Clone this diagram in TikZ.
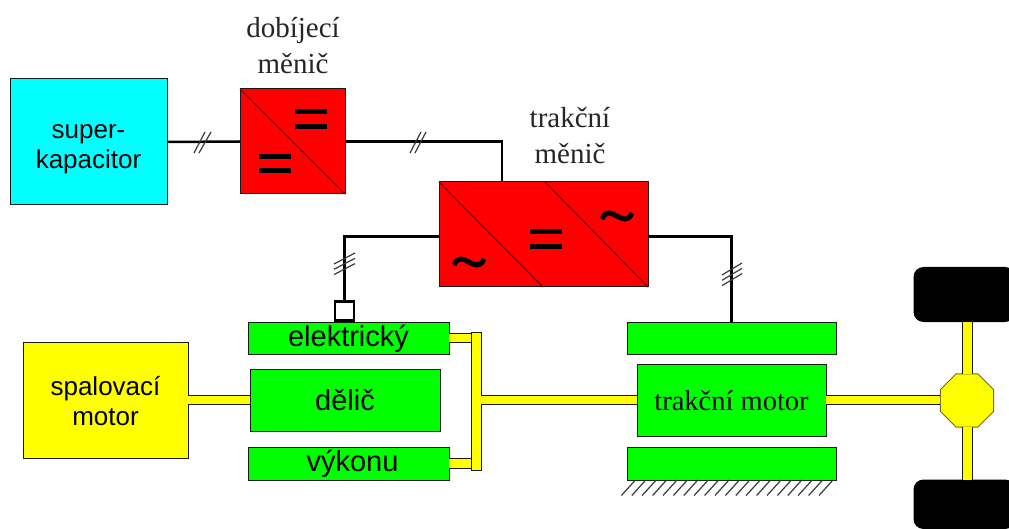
\documentclass[tikz,border=0pt]{standalone}
\usepackage{fontspec}
\setmainfont{Liberation Serif}
\setsansfont{Liberation Sans}
\usetikzlibrary{shapes.geometric}
\definecolor{edgedark}{HTML}{1A1A1A}
\definecolor{diagred}{HTML}{800000}
\definecolor{hatchgrey}{HTML}{3A3A3A}
\definecolor{purecyan}{HTML}{00FFFF}
\definecolor{purered}{HTML}{FF0000}
\definecolor{puregreen}{HTML}{00FF00}
\definecolor{pureyellow}{HTML}{FFFF00}
\definecolor{octedge}{HTML}{6E6E10}
\tikzset{
  block/.style={draw=edgedark,line width=1pt,inner sep=0pt,outer sep=0pt,align=center,text=black},
  capbox/.style={block,fill=purecyan},
  conv/.style={block,fill=purered},
  stator/.style={block,fill=puregreen,font=\sffamily\fontsize{29}{32}\selectfont},
  engine/.style={block,fill=pureyellow,font=\sffamily\fontsize{26}{30}\selectfont},
  caption/.style={inner sep=0pt,align=center,text=black!85,font=\rmfamily\fontsize{29}{35.5}\selectfont},
  wire/.style={draw=black,line width=2.5pt},
  diag/.style={draw=diagred,line width=1.2pt},
  tick/.style={draw=hatchgrey,line width=1.2pt},
  bars/.style={draw=black,line width=5pt},
  shaft/.style={draw=edgedark,line width=1pt,double=pureyellow,double distance=8.5pt},
  axle/.style={draw=edgedark,line width=1pt,double=pureyellow,double distance=9pt},
  wave/.pic={\draw[line width=5pt,black] (-15,3) .. controls (-7,-15) and (7,15) .. (15,-3);}
}
\begin{document}
\begin{tikzpicture}[x=1pt,y=-1pt]
\useasboundingbox (0,0) rectangle (1009,529);
% blocks
\node[capbox,minimum width=157pt,minimum height=126pt,font=\sffamily\fontsize{26}{30}\selectfont] (cap) at (88.5,142) {\rule{0pt}{29pt}super-\\kapacitor};
\node[conv,minimum width=105pt,minimum height=105pt] (chg) at (292.5,141.5) {};
\node[conv,minimum width=209pt,minimum height=105pt] (trac) at (543.5,234.5) {};
\node[caption] (lchg) at (293,45.5) {dobíjecí\\měnič};
\node[caption] (ltrac) at (570,135.5) {trakční\\měnič};
\node[draw=black,line width=2.5pt,fill=white,inner sep=0pt,outer sep=0pt,minimum width=19pt,minimum height=19pt] (sq) at (344.5,311) {};
\node[stator,minimum width=201pt,minimum height=32pt] (el) at (348.5,338) {\rule{0pt}{23pt}elektrický};
\node[stator,minimum width=190pt,minimum height=62pt] (del) at (345,400) {dělič};
\node[stator,minimum width=201pt,minimum height=33pt] (vy) at (348.5,463.5) {\hspace*{8pt}výkonu};
\node[engine,minimum width=165pt,minimum height=116pt] (ice) at (105.5,400) {\rule{0pt}{21pt}spalovací\\motor};
\node[block,fill=pureyellow,minimum width=10pt,minimum height=138pt] (bar) at (476,401) {};
\node[stator,minimum width=209pt,minimum height=32pt] (st1) at (731.5,338) {};
\node[block,fill=puregreen,minimum width=189pt,minimum height=72pt,font=\rmfamily\fontsize{28.5}{32}\selectfont] (mot) at (731.5,400) {\rule{0pt}{21pt}trakční motor};
\node[stator,minimum width=209pt,minimum height=33pt] (st2) at (731.5,463.5) {};
\node[regular polygon,regular polygon sides=8,draw=octedge,line width=1pt,fill=pureyellow,inner sep=0pt,outer sep=0pt,minimum size=57.4pt] (oct) at (967,400.5) {};
% wheels
\fill[black,rounded corners=10pt] (1015,267) -- (913.5,267) -- (913.5,322) -- (1015,322) -- cycle;
\fill[black,rounded corners=10pt] (1015,479.5) -- (913.5,479.5) -- (913.5,529) -- (1015,529) -- cycle;
\coordinate (w1) at (967,322);
\coordinate (w2) at (967,479.5);
% electrical connections
\draw[wire] (cap.east) -- (chg.west);
\draw[wire] (chg.east) -| ([xshift=-41.5pt]trac.north);
\draw[wire] ([yshift=-2pt]trac.west) -| (sq.north);
\draw[wire] ([yshift=-2pt]trac.east) -| (st1.north);
% mechanical connections
\draw[shaft] (ice.east) -- (del.west);
\draw[shaft] (el.east) -- (el.east -| bar.west);
\draw[shaft] (vy.east) -- (vy.east -| bar.west);
\draw[shaft] (bar.east |- mot.west) -- (mot.west);
\draw[shaft] (mot.east) -- (oct.west |- mot.east);
\draw[axle] (oct.north) -- (w1);
\draw[axle] (oct.south) -- (w2);
% converter diagonals
\draw[diag] (chg.north west) -- (chg.south east);
\draw[diag] (trac.north west) -- ++(104,105);
\draw[diag] (trac.south east) -- ++(-103,-105);
% converter symbols
\draw[bars] (295,112) -- (327,112) (295,127) -- (327,127);
\draw[bars] (259,157) -- (291,157) (259,171) -- (291,171);
\draw[bars] (530,232) -- (562,232) (530,247) -- (562,247);
\pic at (617,216) {wave};
\pic at (469,262) {wave};
% line count ticks
\draw[tick] (194,153) -- (205,132) (199,153) -- (211,132);
\draw[tick] (410,153) -- (421,132) (415,153) -- (426,132);
\foreach \d in {0,5.3,10.6}{
  \draw[tick] (334,264+\d) -- (355,253+\d);
  \draw[tick] (722,275+\d) -- (742,263+\d);
}
% ground hatching
\foreach \i in {0,...,19}{
  \pgfmathsetmacro{\sx}{-3-\i*10.4}
  \draw[tick] ([xshift=\sx pt]st2.south east) -- ++(-14,15.5);
}
\end{tikzpicture}
\end{document}
